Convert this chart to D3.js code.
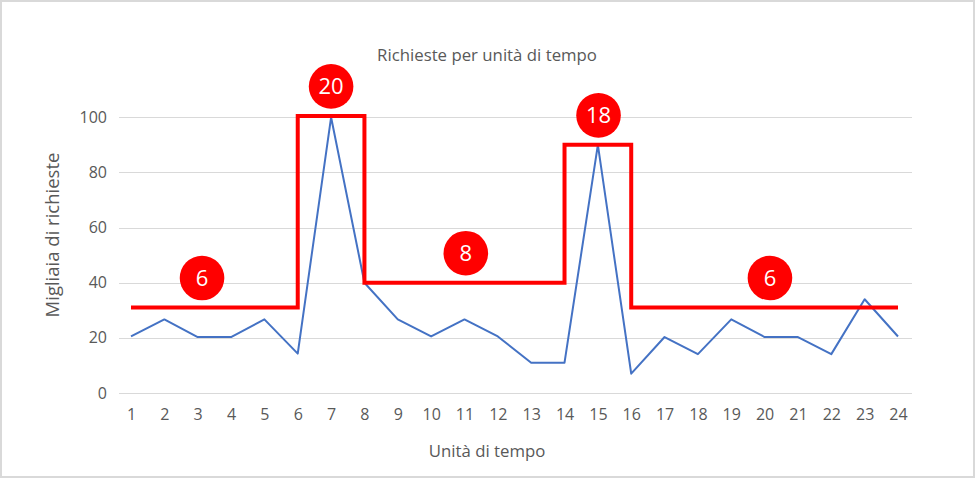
<!DOCTYPE html>
<html>
<head>
<meta charset="utf-8">
<script src="https://cdn.jsdelivr.net/npm/d3@7/dist/d3.min.js"></script>
<style>
  html, body { margin: 0; padding: 0; background: #fff; }
  svg { display: block; font-family: "Open Sans", "Noto Sans", sans-serif; }
</style>
</head>
<body>
<svg id="chart" width="976" height="479"></svg>
<script>
// ---- data ----
const units = d3.range(1, 25);
const requests = [20.5, 26.7, 20.3, 20.3, 26.7, 14.3, 100, 40, 26.7, 20.5, 26.7, 20.5,
                  11, 11, 90, 7, 20.3, 14.1, 26.7, 20.3, 20.3, 14.1, 34, 20.5];
// step levels (red): [from unit, to unit, level]
const levelFrom  = [1, 6, 8, 14, 16];
const levelTo    = [6, 8, 14, 16, 24];
const levelValue = [31, 100.5, 40, 90, 31];
// annotations: unit position, level value, label
const labelUnit  = [3.13, 7, 11.04, 15.02, 20.16];
const labelLevel = [31, 100.5, 40, 90, 31];
const labelText  = ["6", "20", "8", "18", "6"];
const yTicks = [0, 20, 40, 60, 80, 100];
const title = "Richieste per unità di tempo";
const xTitle = "Unità di tempo";
const yTitle = "Migliaia di richieste";

// ---- layout ----
const svg = d3.select("#chart");
const W = 976, H = 479;
const gridLeft = 119, gridRight = 912;
const x = d3.scaleLinear().domain([1, 24]).range([131, 898]);
const y = d3.scaleLinear().domain([0, 100]).range([393, 117.3]);

// border
svg.append("rect").attr("x", 1).attr("y", 1).attr("width", W - 3).attr("height", H - 3)
  .attr("fill", "#fff").attr("stroke", "#d9d9d9").attr("stroke-width", 2);

// title
svg.append("text").attr("x", 487).attr("y", 61).attr("text-anchor", "middle")
  .attr("font-size", 16.8).attr("fill", "#595959").text(title);

// gridlines
svg.append("g").selectAll("line").data(yTicks).join("line")
  .attr("x1", gridLeft).attr("x2", gridRight)
  .attr("y1", d => Math.round(y(d)) + 0.5).attr("y2", d => Math.round(y(d)) + 0.5)
  .attr("stroke", "#d9d9d9").attr("stroke-width", 1);

// y axis labels
const yAxis = d3.axisLeft(y).tickValues(yTicks).tickSize(0).tickPadding(0);
const gy = svg.append("g").attr("transform", "translate(107,0)").call(yAxis);
gy.select(".domain").remove();
gy.selectAll("text").attr("font-size", 16).attr("fill", "#595959")
  .attr("font-family", "'Open Sans', 'Noto Sans', sans-serif");

// x axis labels
const xAxis = d3.axisBottom(x).tickValues(units).tickFormat(d3.format("d")).tickSize(0).tickPadding(0);
const gx = svg.append("g").attr("transform", "translate(0,409)").call(xAxis);
gx.select(".domain").remove();
gx.selectAll("text").attr("font-size", 16).attr("fill", "#595959")
  .attr("font-family", "'Open Sans', 'Noto Sans', sans-serif");

// axis titles
svg.append("text").attr("x", 487).attr("y", 457).attr("text-anchor", "middle")
  .attr("font-size", 16.8).attr("fill", "#595959").text(xTitle);
svg.append("text").attr("transform", "translate(59,235) rotate(-90)")
  .attr("text-anchor", "middle").attr("font-size", 18.5).attr("fill", "#595959").text(yTitle);

// blue line
const line = d3.line().x((d, i) => x(units[i])).y(d => y(d));
svg.append("path").datum(requests).attr("d", line)
  .attr("fill", "none").attr("stroke", "#4472C4").attr("stroke-width", 2)
  .attr("stroke-linejoin", "round");

// red step line
const stepPts = [];
levelFrom.forEach((f, i) => {
  stepPts.push([f, levelValue[i]]);
  stepPts.push([levelTo[i], levelValue[i]]);
});
svg.append("path").datum(stepPts)
  .attr("d", d3.line().x(d => x(d[0])).y(d => y(d[1])))
  .attr("fill", "none").attr("stroke", "#ff0000").attr("stroke-width", 4)
  .attr("stroke-linejoin", "miter");

// annotations
const ann = svg.append("g").selectAll("g").data(labelText).join("g")
  .attr("transform", (d, i) => `translate(${x(labelUnit[i])},${y(labelLevel[i]) - 29.5})`);
ann.append("circle").attr("r", 22.3).attr("fill", "#ff0000");
ann.append("text").attr("text-anchor", "middle").attr("dy", "0.36em")
  .attr("font-size", 22).attr("fill", "#fff").text(d => d);
</script>
</body>
</html>
